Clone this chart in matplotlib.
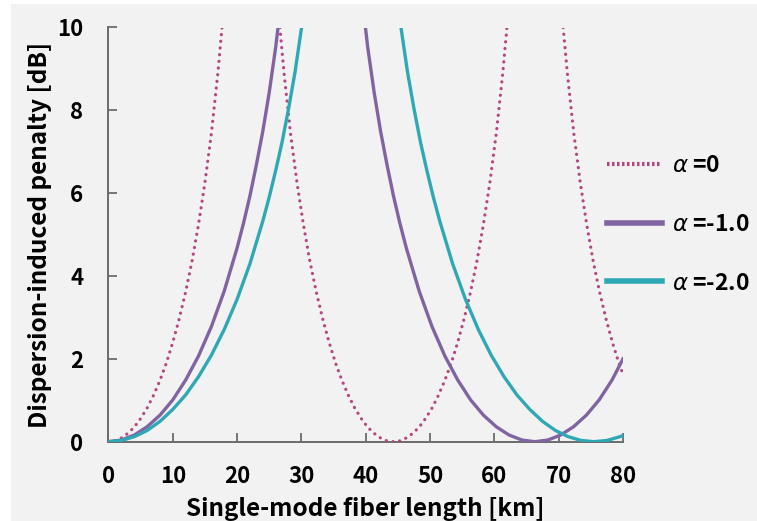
import numpy as np
import matplotlib
matplotlib.use('Agg')
import matplotlib.pyplot as plt
from matplotlib.patches import Rectangle
from matplotlib.lines import Line2D

plt.rcParams['font.family'] = ['Noto Sans CJK JP', 'DejaVu Sans']
plt.rcParams['mathtext.fontset'] = 'dejavusans'

nan = np.nan

# alpha = 0 (dotted); nan splits the branches that leave the top of the plot
len_a0 = [0, 1, 2, 3, 4, 5, 6, 7, 8, 9, 10, 11, 12, 13, 14, 15, 16, 17, 17.65, nan,
          26.65, 27.3, 28.3, 29.3, 30.3, 31.3, 32.3, 33.3, 34.3, 35.3, 36.3, 37.3, 38.3,
          39.3, 40.3, 41.3, 42.3, 43.3, 44.3, 45.3, 46.3, 47.3, 48.3, 49.3, 50.3, 51.3,
          52.3, 53.3, 54.3, 55.3, 56.3, 57.3, 58.3, 59.3, 60.3, 61.3, 61.95, nan,
          70.7, 71.35, 72.35, 73.35, 74.35, 75.35, 76.35, 77.35, 78.35, 79.35, 80]
pen_a0 = [0, 0.02, 0.09, 0.20, 0.35, 0.56, 0.81, 1.12, 1.48, 1.90, 2.40, 2.97, 3.62,
          4.37, 5.25, 6.26, 7.45, 8.89, 10, nan,
          10, 8.89, 7.45, 6.26, 5.25, 4.37, 3.62, 2.97, 2.40, 1.90, 1.48, 1.12, 0.81,
          0.56, 0.35, 0.20, 0.09, 0.02, 0, 0.02, 0.09, 0.20, 0.35, 0.56, 0.81, 1.12,
          1.48, 1.90, 2.40, 2.97, 3.62, 4.37, 5.25, 6.26, 7.45, 8.89, 10, nan,
          10, 8.89, 7.45, 6.26, 5.25, 4.37, 3.62, 2.97, 2.40, 1.90, 1.63]

# alpha = -1.0
len_a1 = [0, 2, 4, 6, 8, 10, 12, 14, 16, 18, 20, 21, 22, 23, 24, 25, 26, 26.36, nan,
          39.95, 40.3, 41.3, 42.3, 43.3, 44.3, 45.3, 46.3, 48.3, 50.3, 52.3, 54.3, 56.3,
          58.3, 60.3, 62.3, 64.3, 66.3, 68.3, 70.3, 72.3, 74.3, 76.3, 78.3, 80]
pen_a1 = [0, 0.04, 0.16, 0.36, 0.64, 1.01, 1.49, 2.07, 2.78, 3.64, 4.68, 5.28, 5.94,
          6.69, 7.50, 8.44, 9.53, 10, nan,
          10, 9.53, 8.44, 7.50, 6.69, 5.94, 5.28, 4.68, 3.64, 2.78, 2.07, 1.49, 1.01,
          0.64, 0.36, 0.16, 0.04, 0, 0.04, 0.16, 0.36, 0.64, 1.01, 1.49, 2.0]

# alpha = -2.0
len_a2 = [0, 2, 4, 6, 8, 10, 12, 14, 16, 18, 20, 22, 24, 25, 26, 27, 28, 29, 30.02, nan,
          45.48, 46.5, 47.5, 48.5, 49.5, 50.5, 51.5, 53.5, 55.5, 57.5, 59.5, 61.5, 63.5,
          65.5, 67.5, 69.5, 71.5, 73.5, 75.5, 77.5, 79.5, 80]
pen_a2 = [0, 0.03, 0.12, 0.27, 0.49, 0.78, 1.13, 1.57, 2.09, 2.71, 3.44, 4.30, 5.33,
          5.91, 6.55, 7.24, 8.04, 8.92, 10, nan,
          10, 8.92, 8.04, 7.24, 6.55, 5.91, 5.33, 4.30, 3.44, 2.71, 2.09, 1.57, 1.13,
          0.78, 0.49, 0.27, 0.12, 0.03, 0, 0.03, 0.12, 0.15]

labels = [r'$\alpha$ =0', r'$\alpha$ =-1.0', r'$\alpha$ =-2.0']
x_ticks = [0, 10, 20, 30, 40, 50, 60, 70, 80]
y_ticks = [0, 2, 4, 6, 8, 10]

c0 = '#b5467f'
c1 = '#8064a2'
c2 = '#2fa8b5'
axis_grey = '#6b6b6b'

W, H = 757, 521
fig = plt.figure(figsize=(W / 100, H / 100), dpi=100, facecolor='white')
# grey panel, white strip on left and top
fig.patches.append(Rectangle((11 / W, 0), 1, (H - 4) / H, transform=fig.transFigure,
                             facecolor='#f2f2f2', edgecolor='none', zorder=-5))

x0, x1, ytop, ybot = 108.5, 623.0, 27.5, 441.7
ax = fig.add_axes([x0 / W, 1 - ybot / H, (x1 - x0) / W, (ybot - ytop) / H])
ax.set_facecolor('none')

ax.plot(len_a0, pen_a0, color=c0, lw=2.3, linestyle=(0, (0.05, 2.05)),
        dash_capstyle='round', zorder=3)
ax.plot(len_a1, pen_a1, color=c1, lw=2.4, zorder=3)
ax.plot(len_a2, pen_a2, color=c2, lw=2.4, zorder=3)

ax.set_xlim(0, 80)
ax.set_ylim(0, 10)
ax.set_xticks(x_ticks)
ax.set_yticks(y_ticks)
for s in ['top', 'right']:
    ax.spines[s].set_visible(False)
for s in ['left', 'bottom']:
    ax.spines[s].set_color(axis_grey)
    ax.spines[s].set_linewidth(1.4)
ax.tick_params(direction='in', length=6.5, width=1.3, color=axis_grey,
               labelsize=16, labelcolor='black')
ax.tick_params(axis='y', pad=18)
ax.tick_params(axis='x', pad=17)
for t in ax.get_xticklabels() + ax.get_yticklabels():
    t.set_fontweight('bold')

ax.set_xlabel('Single-mode fiber length [km]', fontsize=17.5, fontweight='bold', labelpad=6)
ax.set_ylabel('Dispersion-induced penalty [dB]', fontsize=17.5, fontweight='bold', labelpad=4)

handles = [Line2D([], [], color=c0, lw=3, linestyle=(0, (0.6, 0.6))),
           Line2D([], [], color=c1, lw=4),
           Line2D([], [], color=c2, lw=4)]
leg = fig.legend(handles, labels, loc='upper left', bbox_to_anchor=(607 / W, 1 - 154 / H),
                 frameon=False, fontsize=16.5, handlelength=2.4, handletextpad=0.42,
                 labelspacing=1.56, borderpad=0, borderaxespad=0)
for t in leg.get_texts():
    t.set_fontweight('bold')

fig.savefig('out.png', dpi=100, facecolor=fig.get_facecolor())
